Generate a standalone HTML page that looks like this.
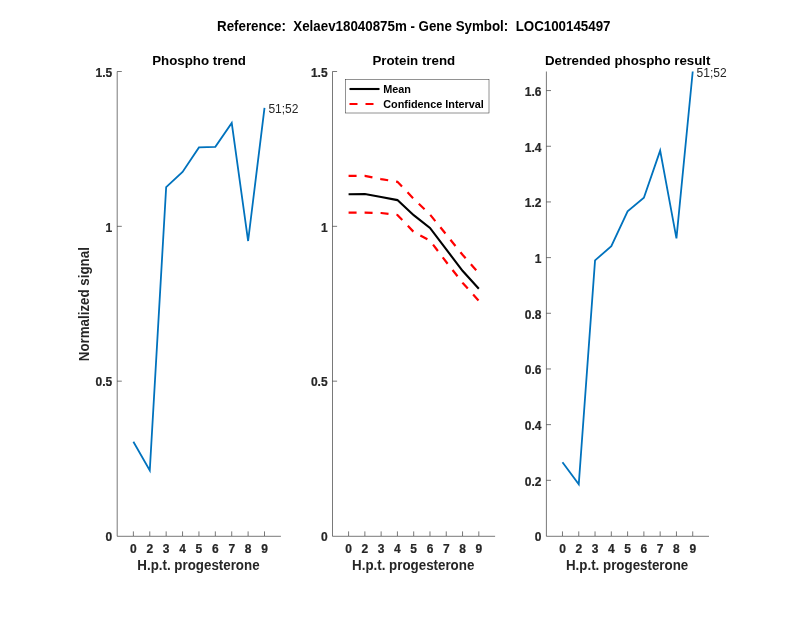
<!DOCTYPE html>
<html><head><meta charset="utf-8"><style>
html,body{margin:0;padding:0;background:#fff;}
svg{display:block;filter:blur(0.5px);}
text.t{stroke:#262626;stroke-width:0.2px;}
text{font-family:"Liberation Sans",Arial,Helvetica,sans-serif;}
</style></head><body>
<svg width="800" height="618" viewBox="0 0 800 618">
<rect width="800" height="618" fill="#fff"/>

<text transform="translate(217 30.6) scale(1 1.08)" font-size="13.35" font-weight="bold" fill="#000" xml:space="preserve">Reference:  Xelaev18040875m - Gene Symbol:  LOC100145497</text>
<path d="M117.2 71.5V536.3H280.9" fill="none" stroke="#262626" stroke-width="0.62"/>
<path d="M117.2 381.17h4.6M117.2 226.33h4.6M117.2 71.50h4.6M133.39 536.0v-4.6M149.78 536.0v-4.6M166.17 536.0v-4.6M182.56 536.0v-4.6M198.95 536.0v-4.6M215.34 536.0v-4.6M231.73 536.0v-4.6M248.12 536.0v-4.6M264.51 536.0v-4.6" fill="none" stroke="#262626" stroke-width="0.62"/>
<text x="112.30" y="541.30" font-size="12" font-weight="bold" fill="#262626" class="t" text-anchor="end">0</text>
<text x="112.30" y="386.47" font-size="12" font-weight="bold" fill="#262626" class="t" text-anchor="end">0.5</text>
<text x="112.30" y="231.63" font-size="12" font-weight="bold" fill="#262626" class="t" text-anchor="end">1</text>
<text x="112.30" y="76.80" font-size="12" font-weight="bold" fill="#262626" class="t" text-anchor="end">1.5</text>
<text x="133.39" y="553" font-size="12" font-weight="bold" fill="#262626" class="t" text-anchor="middle">0</text>
<text x="149.78" y="553" font-size="12" font-weight="bold" fill="#262626" class="t" text-anchor="middle">2</text>
<text x="166.17" y="553" font-size="12" font-weight="bold" fill="#262626" class="t" text-anchor="middle">3</text>
<text x="182.56" y="553" font-size="12" font-weight="bold" fill="#262626" class="t" text-anchor="middle">4</text>
<text x="198.95" y="553" font-size="12" font-weight="bold" fill="#262626" class="t" text-anchor="middle">5</text>
<text x="215.34" y="553" font-size="12" font-weight="bold" fill="#262626" class="t" text-anchor="middle">6</text>
<text x="231.73" y="553" font-size="12" font-weight="bold" fill="#262626" class="t" text-anchor="middle">7</text>
<text x="248.12" y="553" font-size="12" font-weight="bold" fill="#262626" class="t" text-anchor="middle">8</text>
<text x="264.51" y="553" font-size="12" font-weight="bold" fill="#262626" class="t" text-anchor="middle">9</text>
<text transform="translate(198.45 570.3) scale(1 1.08)" font-size="13.35" font-weight="bold" fill="#262626" text-anchor="middle">H.p.t. progesterone</text>
<text transform="translate(199.05 64.8) scale(1 1.0)" font-size="13.3" font-weight="bold" fill="#000" text-anchor="middle">Phospho trend</text>
<path d="M332.5 71.5V536.3H495.1" fill="none" stroke="#262626" stroke-width="0.62"/>
<path d="M332.5 381.17h4.6M332.5 226.33h4.6M332.5 71.50h4.6M348.58 536.0v-4.6M364.86 536.0v-4.6M381.14 536.0v-4.6M397.42 536.0v-4.6M413.70 536.0v-4.6M429.98 536.0v-4.6M446.26 536.0v-4.6M462.54 536.0v-4.6M478.82 536.0v-4.6" fill="none" stroke="#262626" stroke-width="0.62"/>
<text x="327.60" y="541.30" font-size="12" font-weight="bold" fill="#262626" class="t" text-anchor="end">0</text>
<text x="327.60" y="386.47" font-size="12" font-weight="bold" fill="#262626" class="t" text-anchor="end">0.5</text>
<text x="327.60" y="231.63" font-size="12" font-weight="bold" fill="#262626" class="t" text-anchor="end">1</text>
<text x="327.60" y="76.80" font-size="12" font-weight="bold" fill="#262626" class="t" text-anchor="end">1.5</text>
<text x="348.58" y="553" font-size="12" font-weight="bold" fill="#262626" class="t" text-anchor="middle">0</text>
<text x="364.86" y="553" font-size="12" font-weight="bold" fill="#262626" class="t" text-anchor="middle">2</text>
<text x="381.14" y="553" font-size="12" font-weight="bold" fill="#262626" class="t" text-anchor="middle">3</text>
<text x="397.42" y="553" font-size="12" font-weight="bold" fill="#262626" class="t" text-anchor="middle">4</text>
<text x="413.70" y="553" font-size="12" font-weight="bold" fill="#262626" class="t" text-anchor="middle">5</text>
<text x="429.98" y="553" font-size="12" font-weight="bold" fill="#262626" class="t" text-anchor="middle">6</text>
<text x="446.26" y="553" font-size="12" font-weight="bold" fill="#262626" class="t" text-anchor="middle">7</text>
<text x="462.54" y="553" font-size="12" font-weight="bold" fill="#262626" class="t" text-anchor="middle">8</text>
<text x="478.82" y="553" font-size="12" font-weight="bold" fill="#262626" class="t" text-anchor="middle">9</text>
<text transform="translate(413.20 570.3) scale(1 1.08)" font-size="13.35" font-weight="bold" fill="#262626" text-anchor="middle">H.p.t. progesterone</text>
<text transform="translate(413.80 64.8) scale(1 1.0)" font-size="13.3" font-weight="bold" fill="#000" text-anchor="middle">Protein trend</text>
<path d="M546.4000000000001 71.5V536.3H709.0" fill="none" stroke="#262626" stroke-width="0.62"/>
<path d="M546.4000000000001 480.32h4.6M546.4000000000001 424.64h4.6M546.4000000000001 368.96h4.6M546.4000000000001 313.28h4.6M546.4000000000001 257.61h4.6M546.4000000000001 201.93h4.6M546.4000000000001 146.25h4.6M546.4000000000001 90.57h4.6M562.48 536.0v-4.6M578.76 536.0v-4.6M595.04 536.0v-4.6M611.32 536.0v-4.6M627.60 536.0v-4.6M643.88 536.0v-4.6M660.16 536.0v-4.6M676.44 536.0v-4.6M692.72 536.0v-4.6" fill="none" stroke="#262626" stroke-width="0.62"/>
<text x="541.50" y="541.30" font-size="12" font-weight="bold" fill="#262626" class="t" text-anchor="end">0</text>
<text x="541.50" y="485.62" font-size="12" font-weight="bold" fill="#262626" class="t" text-anchor="end">0.2</text>
<text x="541.50" y="429.94" font-size="12" font-weight="bold" fill="#262626" class="t" text-anchor="end">0.4</text>
<text x="541.50" y="374.26" font-size="12" font-weight="bold" fill="#262626" class="t" text-anchor="end">0.6</text>
<text x="541.50" y="318.58" font-size="12" font-weight="bold" fill="#262626" class="t" text-anchor="end">0.8</text>
<text x="541.50" y="262.91" font-size="12" font-weight="bold" fill="#262626" class="t" text-anchor="end">1</text>
<text x="541.50" y="207.23" font-size="12" font-weight="bold" fill="#262626" class="t" text-anchor="end">1.2</text>
<text x="541.50" y="151.55" font-size="12" font-weight="bold" fill="#262626" class="t" text-anchor="end">1.4</text>
<text x="541.50" y="95.87" font-size="12" font-weight="bold" fill="#262626" class="t" text-anchor="end">1.6</text>
<text x="562.48" y="553" font-size="12" font-weight="bold" fill="#262626" class="t" text-anchor="middle">0</text>
<text x="578.76" y="553" font-size="12" font-weight="bold" fill="#262626" class="t" text-anchor="middle">2</text>
<text x="595.04" y="553" font-size="12" font-weight="bold" fill="#262626" class="t" text-anchor="middle">3</text>
<text x="611.32" y="553" font-size="12" font-weight="bold" fill="#262626" class="t" text-anchor="middle">4</text>
<text x="627.60" y="553" font-size="12" font-weight="bold" fill="#262626" class="t" text-anchor="middle">5</text>
<text x="643.88" y="553" font-size="12" font-weight="bold" fill="#262626" class="t" text-anchor="middle">6</text>
<text x="660.16" y="553" font-size="12" font-weight="bold" fill="#262626" class="t" text-anchor="middle">7</text>
<text x="676.44" y="553" font-size="12" font-weight="bold" fill="#262626" class="t" text-anchor="middle">8</text>
<text x="692.72" y="553" font-size="12" font-weight="bold" fill="#262626" class="t" text-anchor="middle">9</text>
<text transform="translate(627.10 570.3) scale(1 1.08)" font-size="13.35" font-weight="bold" fill="#262626" text-anchor="middle">H.p.t. progesterone</text>
<text transform="translate(627.70 64.8) scale(1 1.0)" font-size="13.3" font-weight="bold" fill="#000" text-anchor="middle">Detrended phospho result</text>
<text transform="translate(89.0 304.2) rotate(-90) scale(1 1.08)" font-size="13.35" font-weight="bold" fill="#262626" text-anchor="middle">Normalized signal</text>
<polyline points="133.39,441.77 149.78,470.51 166.17,187.07 182.56,171.89 198.95,147.43 215.34,146.84 231.73,122.90 248.12,241.01 264.51,107.79" fill="none" stroke="#0072BD" stroke-width="1.8" stroke-linejoin="miter"/>
<text x="268.41" y="112.94" font-size="12" fill="#262626" xml:space="preserve">51;52</text>
<polyline points="562.48,462.20 578.76,484.30 595.04,260.40 611.32,246.20 627.60,211.40 643.88,197.70 660.16,150.60 676.44,238.30 692.72,71.50" fill="none" stroke="#0072BD" stroke-width="1.8" stroke-linejoin="miter"/>
<text x="696.62" y="76.65" font-size="12" fill="#262626" xml:space="preserve">51;52</text>
<polyline points="348.58,175.90 364.86,175.90 381.14,179.10 397.42,181.80 413.70,198.80 429.98,214.50 446.26,234.50 462.54,254.80 478.82,273.30" fill="none" stroke="#ff0000" stroke-width="2.2" stroke-dasharray="8 8"/>
<polyline points="348.58,212.60 364.86,212.60 381.14,213.00 397.42,215.00 413.70,232.00 429.98,240.60 446.26,262.00 462.54,282.70 478.82,300.80" fill="none" stroke="#ff0000" stroke-width="2.2" stroke-dasharray="8 8"/>
<polyline points="348.58,194.20 364.86,194.00 381.14,197.00 397.42,200.10 413.70,215.20 429.98,227.90 446.26,249.40 462.54,270.80 478.82,288.80" fill="none" stroke="#000" stroke-width="2.1"/>
<rect x="345.5" y="79.5" width="143.5" height="33.5" fill="#fff" stroke="#262626" stroke-width="0.5"/>
<path d="M349.5 89H379.5" stroke="#000" stroke-width="2.1"/>
<path d="M349.5 104H379.5" stroke="#ff0000" stroke-width="2.2" stroke-dasharray="8 8"/>
<text x="383.2" y="93" font-size="10.85" font-weight="bold" fill="#000">Mean</text>
<text x="383.2" y="107.8" font-size="10.85" font-weight="bold" fill="#000">Confidence Interval</text>
</svg></body></html>
